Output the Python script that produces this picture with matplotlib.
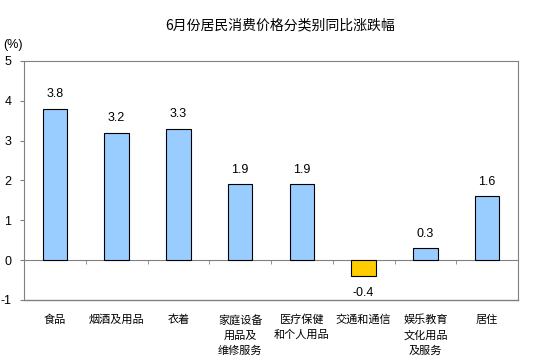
import matplotlib
matplotlib.use("Agg")
import matplotlib.pyplot as plt
import matplotlib.transforms as mtransforms

plt.rcParams['font.family'] = ['Noto Sans CJK SC', 'DejaVu Sans']

categories = ["食品", "烟酒及用品", "衣着", "家庭设备\n用品及\n维修服务", "医疗保健\n和个人用品",
              "交通和通信", "娱乐教育\n文化用品\n及服务", "居住"]
values = [3.8, 3.2, 3.3, 1.9, 1.9, -0.4, 0.3, 1.6]
yticks = [-1, 0, 1, 2, 3, 4, 5]
title = "6月份居民消费价格分类别同比涨跌幅"

fig = plt.figure(figsize=(5.35, 3.56), dpi=100)
ax = fig.add_axes([24/535, 1-300/356, 494/535, 239/356])

x = list(range(len(values)))
colors = ["#99CCFF" if v >= 0 else "#FFCC00" for v in values]
ax.bar(x, values, width=0.4, color=colors, edgecolor="black", linewidth=0.8, zorder=3)

ax.set_xlim(-0.5, len(values) - 0.5)
ax.set_ylim(-1, 5)
ax.set_yticks(yticks)
ax.set_yticklabels([str(t) for t in yticks], fontsize=9, family='Liberation Sans')
ax.tick_params(axis='y', length=3, direction='out', pad=6, color='#808080')

for s in ['top', 'right', 'left']:
    ax.spines[s].set_color('#808080')
    ax.spines[s].set_linewidth(0.8)
ax.spines['bottom'].set_position(('data', 0))
ax.spines['bottom'].set_color('#808080')
ax.spines['bottom'].set_linewidth(0.8)
ax.axhline(-1, color='#808080', linewidth=1.0, clip_on=False)

ax.set_xticks([i + 0.5 for i in x[:-1]], minor=True)
ax.set_xticks([])
ax.tick_params(axis='x', which='minor', length=3, direction='out', color='#808080')

trans = mtransforms.blended_transform_factory(ax.transData, ax.transAxes)
for i, c in enumerate(categories):
    ax.text(i, -0.06, c, transform=trans, ha='center', va='top', fontsize=8, linespacing=1.6)

for i, v in enumerate(values):
    if v >= 0:
        ax.annotate(f"{v}", (i, v), xytext=(0, 6), textcoords='offset points', ha='center', va='bottom',
                    fontsize=9, family='Liberation Sans')
    else:
        ax.annotate(f"{v}", (i, v), xytext=(0, -8), textcoords='offset points', ha='center', va='top',
                    fontsize=9, family='Liberation Sans')

fig.text(280/535, 1-25/356, title, ha='center', va='center', fontsize=10)
fig.text(3/535, 1-45/356, "(%)", ha='left', va='center', fontsize=9, family='Liberation Sans')

fig.savefig("out.png", dpi=100)
